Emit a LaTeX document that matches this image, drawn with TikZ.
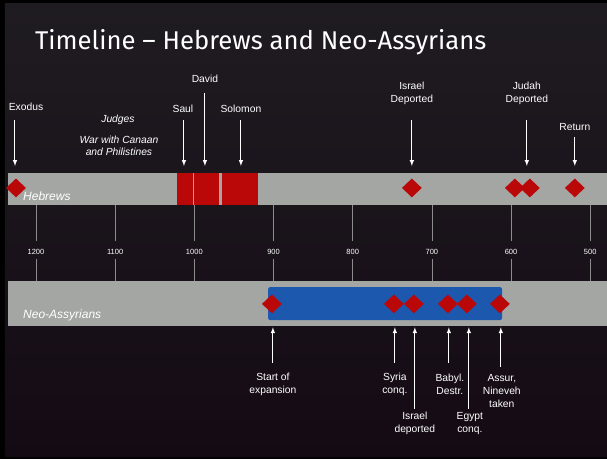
\documentclass[tikz,border=0pt]{standalone}
\usepackage{fontspec}
\setmainfont{Liberation Sans}
\newfontfamily\titlefont{Fira Sans}
\usetikzlibrary{shapes.geometric, arrows}

\definecolor{slidetop}{HTML}{1F1C21}
\definecolor{slidebot}{HTML}{140A14}
\definecolor{bargray}{HTML}{A4A6A4}
\definecolor{tickgray}{HTML}{8C8C8C}
\definecolor{eventred}{HTML}{BA0808}
\definecolor{empireblue}{HTML}{1C58AE}

\begin{document}
\begin{tikzpicture}[x=1pt, y=-1pt, >=latex,
  lbl/.style={text=white, font=\fontsize{10.3}{13}\selectfont, align=center, inner sep=0pt},
  era/.style={lbl, font=\fontsize{10.3}{12.5}\selectfont\itshape},
  yearlbl/.style={text=white, font=\fontsize{7.5}{9}\selectfont, inner sep=0pt},
  bar/.style={fill=bargray, anchor=north west, inner sep=0pt},
  barname/.style={text=white, font=\fontsize{12}{14}\selectfont\itshape, anchor=base west, inner sep=0pt},
  event/.style={diamond, fill=eventred, minimum width=20pt, minimum height=19pt, inner sep=0pt},
  reign/.style={fill=eventred, anchor=north west, minimum height=32pt, inner sep=0pt},
  pointer/.style={->, white, line width=1pt},
  tick/.style={tickgray, line width=0.6pt}]
  % Slide background inside a dark frame
  \fill[black] (0,0) rectangle (607,459);
  \shade[top color=slidetop, bottom color=slidebot] (5,3) rectangle (607,457);
  % Title
  \node[anchor=base west, text=white, inner sep=0pt,
    font=\titlefont\fontsize{25.7}{30}\selectfont] (title) at (35,50)
    {Timeline – Hebrews and Neo-Assyrians};

  % The two bars
  \node[bar, minimum width=599pt, minimum height=32pt] (heb) at (8,173) {};
  \node[bar, minimum width=599pt, minimum height=45pt] (neo) at (8,281) {};
  \node[barname] (hebname) at (23,201) {Hebrews};
  % Assyrian expansion
  \node[fill=empireblue, rounded corners=2pt, anchor=north west, inner sep=0pt,
    minimum width=234pt, minimum height=33pt] (assyr) at (268,287) {};
  \node[barname] (neoname) at (23,319) {Neo-Assyrians};

  % Years and ticks
  \foreach \yy [count=\i from 0] in {1200,1100,...,500} {
    \node[yearlbl] (y\yy) at ({36+79.2*\i},252) {\yy};
    \draw[tick, shorten <=8pt] (y\yy.north) -- (y\yy |- heb.south);
    \draw[tick, shorten <=4pt] (y\yy.south) -- (y\yy |- neo.north);
  }

  % Kings of the united monarchy
  \node[reign, minimum width=16pt] (saul) at (177,173) {};
  \node[reign, minimum width=25pt] (david) at (194,173) {};
  \node[reign, minimum width=36pt] (solomon) at (222,173) {};

  % Hebrew events
  \foreach \nm/\xx in {exodus/16, israel/412, judah/515, judahb/530, return/575}
    \node[event] (d\nm) at (\xx,188) {};
  % Assyrian events
  \foreach \nm/\xx in {start/272, syria/394, israelb/414, babyl/448, egypt/467, assur/500}
    \node[event] (d\nm) at (\xx,304) {};

  % Labels above the Hebrews
  \node[lbl] (lexodus) at (26,107) {Exodus};
  \node[era] (judges) at (118,120) {Judges};
  \node[era] (war) at (119,146) {War with Canaan\\and Philistines};
  \node[lbl] (lsaul) at (183,109) {Saul};
  \node[lbl] (ldavid) at (205,79) {David};
  \node[lbl] (lsolomon) at (241,109) {Solomon};
  \node[lbl] (lisrael) at (412,93.5) {Israel\\Deported};
  \node[lbl] (ljudah) at (527,93.5) {Judah\\Deported};
  \node[lbl] (lreturn) at (575,127) {Return};

  % Labels below the Neo-Assyrians
  \node[lbl] (lstart) at (273,384.5) {Start of\\expansion};
  \node[lbl] (lsyria) at (395,384.5) {Syria\\conq.};
  \node[lbl] (lisraelb) at (415,423.5) {Israel\\deported};
  \node[lbl] (lbabyl) at (450,384.5) {Babyl.\\Destr.};
  \node[lbl] (legypt) at (470,423.5) {Egypt\\conq.};
  \node[lbl] (lassur) at (502,391) {Assur,\\Nineveh\\taken};

  % Arrow tails
  \coordinate (texodus) at (15,120);
  \coordinate (tsaul) at (184,120);
  \coordinate (tdavid) at (205,93);
  \coordinate (tsolomon) at (241,120);
  \coordinate (tisrael) at (412,120);
  \coordinate (tjudah) at (527,120);
  \coordinate (treturn) at (575,137);
  \coordinate (tstart) at (273,363);
  \coordinate (tsyria) at (395,363);
  \coordinate (tisraelb) at (415,409);
  \coordinate (tbabyl) at (449,363);
  \coordinate (tegypt) at (469,409);
  \coordinate (tassur) at (501,367);

  % Arrows down to the Hebrews
  \foreach \nm in {exodus, saul, david, solomon, israel, judah, return}
    \draw[pointer, shorten >=7pt] (t\nm) -- (t\nm |- heb.north);
  % Arrows up to the Neo-Assyrians
  \foreach \nm in {start, syria, israelb, babyl, egypt, assur}
    \draw[pointer, shorten >=1pt] (t\nm) -- (t\nm |- neo.south);
\end{tikzpicture}
\end{document}
